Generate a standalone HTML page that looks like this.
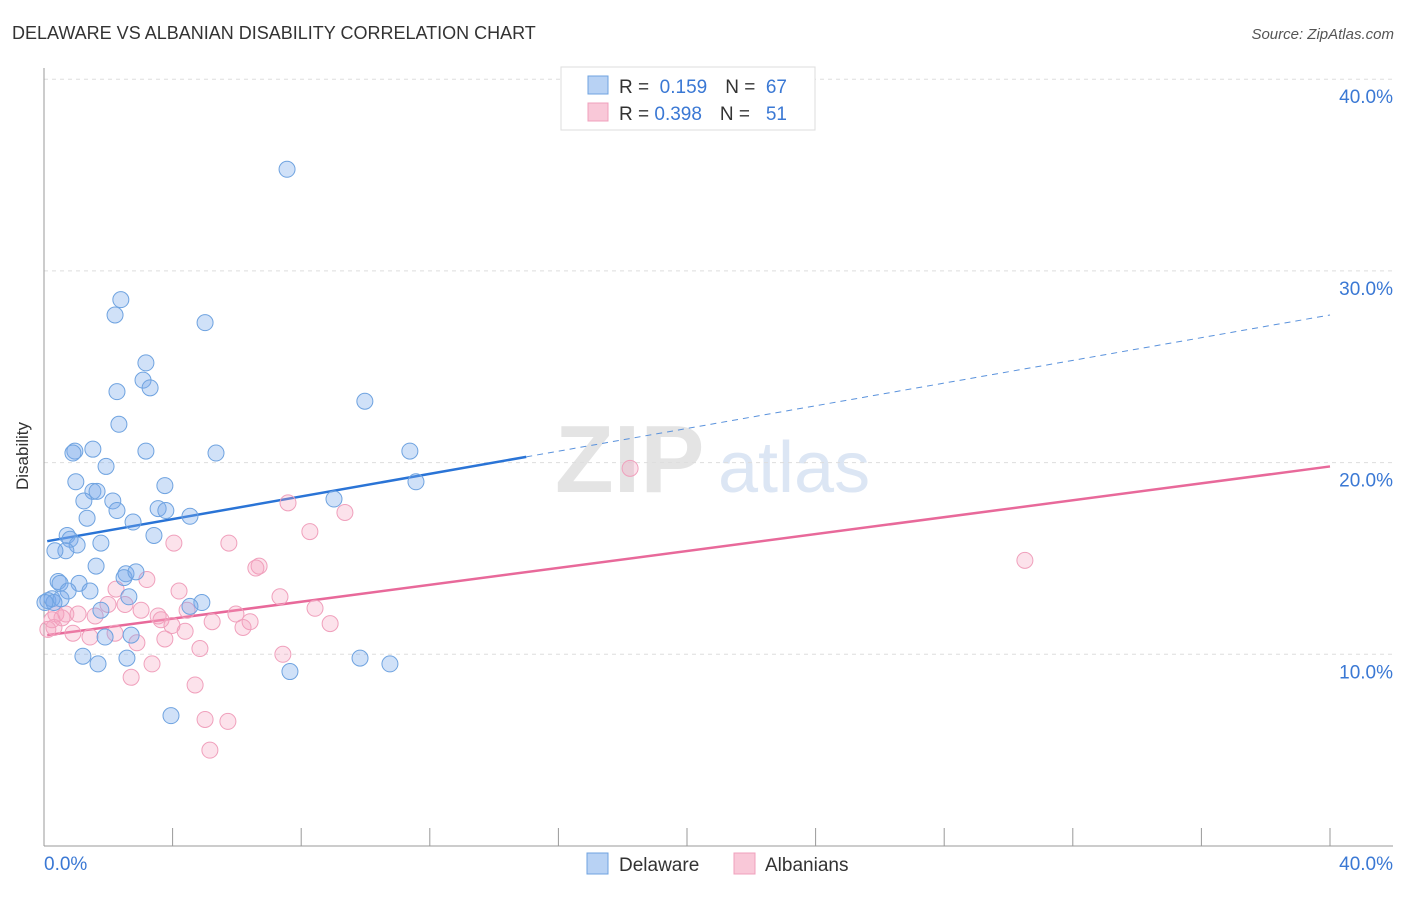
<!DOCTYPE html>
<html><head><meta charset="utf-8"><style>
body{margin:0;background:#fff;font-family:"Liberation Sans",sans-serif;}
svg text{font-family:"Liberation Sans",sans-serif;}
</style></head><body>
<svg id="chart" width="1406" height="892" xmlns="http://www.w3.org/2000/svg">
<text x="12" y="39" font-size="18" fill="#333">DELAWARE VS ALBANIAN DISABILITY CORRELATION CHART</text>
<text x="1394" y="39" font-size="15" fill="#555" text-anchor="end" font-style="italic">Source: ZipAtlas.com</text>
<text x="28" y="456" font-size="17" fill="#333" text-anchor="middle" transform="rotate(-90 28 456)">Disability</text>
<g><text x="555" y="492" font-size="96" fill="#e4e4e4" font-family="Liberation Serif" font-weight="bold">ZIP</text><text x="718" y="492" font-size="72" fill="#dce6f4">atlas</text></g>
<g id="grid"></g><g id="axes"></g><g id="trend"></g><g id="pts"></g>
<g>
<rect x="561" y="67" width="254" height="63" fill="#fff" stroke="#ddd"/>
<rect x="588" y="76" width="20" height="18" fill="#b8d2f4" stroke="#6fa3e0"/>
<rect x="588" y="103" width="20" height="18" fill="#f9c8d8" stroke="#f0a0bc"/>
<text x="619" y="93" font-size="19" fill="#333">R = <tspan fill="#3a78d4">&#160;0.159</tspan><tspan dx="18" fill="#333">N = </tspan><tspan fill="#3a78d4">&#160;67</tspan></text>
<text x="619" y="120" font-size="19" fill="#333">R = <tspan fill="#3a78d4">0.398</tspan><tspan dx="18" fill="#333">N = </tspan><tspan fill="#3a78d4">&#160;&#160;51</tspan></text>
</g>
<g>
<rect x="587" y="853" width="21" height="21" fill="#b8d2f4" stroke="#6fa3e0"/>
<text x="619" y="871" font-size="19" fill="#333">Delaware</text>
<rect x="734" y="853" width="21" height="21" fill="#f9c8d8" stroke="#f0a0bc"/>
<text x="765" y="871" font-size="19" fill="#333">Albanians</text>
</g>
</svg>
<script>
const yTicks=[10,20,30,40];
const yTickLabels=["10.0%","20.0%","30.0%","40.0%"];
const xTickLabels=["0.0%","40.0%"];
const blueX=[7.56,2.39,2.21,5.01,3.17,3.08,3.30,2.27,9.98,2.33,0.96,1.52,0.90,3.17,5.35,11.38,1.93,0.99,11.57,3.76,1.52,1.65,1.24,2.14,2.27,3.55,3.79,9.02,4.54,1.34,2.77,0.72,3.42,0.81,1.03,1.77,0.68,0.34,1.62,2.55,2.49,2.86,0.44,0.50,1.09,0.75,1.43,2.64,0.12,0.25,0.53,0.31,0.03,1.77,4.91,4.54,2.71,1.90,1.21,2.58,1.68,9.83,10.76,7.65,3.95];
const blueY=[35.3,28.5,27.7,27.3,25.2,24.3,23.9,23.7,23.2,22.0,20.6,20.7,20.5,20.6,20.5,20.6,19.8,19.0,19.0,18.8,18.5,18.5,18.0,18.0,17.5,17.6,17.5,18.1,17.2,17.1,16.9,16.2,16.2,16.0,15.7,15.8,15.4,15.4,14.6,14.2,14.0,14.3,13.8,13.7,13.7,13.3,13.3,13.0,12.8,12.9,12.9,12.7,12.7,12.3,12.7,12.5,11.0,10.9,9.9,9.8,9.5,9.8,9.5,9.1,6.8];
const pinkX=[18.23,30.51,7.59,9.36,8.27,4.04,5.75,6.69,6.59,3.20,4.20,2.24,7.34,2.52,1.99,8.43,5.97,0.68,4.45,0.37,1.06,1.59,3.02,3.55,3.64,5.23,6.41,8.90,6.19,2.21,4.39,3.98,0.31,0.12,0.90,1.43,2.89,3.76,4.85,7.43,3.36,2.71,4.70,5.01,5.72,5.16,0.56,0.25];
const pinkY=[19.7,14.9,17.9,17.4,16.4,15.8,15.8,14.6,14.5,13.9,13.3,13.4,13.0,12.6,12.6,12.4,12.1,12.1,12.3,12.1,12.1,12.0,12.3,12.0,11.8,11.7,11.7,11.6,11.4,11.1,11.2,11.5,11.4,11.3,11.1,10.9,10.6,10.8,10.3,10.0,9.5,8.8,8.4,6.6,6.5,5.0,11.9,11.8];
const trendBlueX=[0.1,15.0],trendBlueY=[15.9,20.3];
const trendBlueDashX=[15.0,40.0],trendBlueDashY=[20.3,27.7];
const trendPinkX=[0.1,40.0],trendPinkY=[11.0,19.8];
const NS="http://www.w3.org/2000/svg";
const X=v=>44+v*32.15, Y=v=>846-v*19.17;
function mk(t,a,p){const e=document.createElementNS(NS,t);for(const k in a)e.setAttribute(k,a[k]);p.appendChild(e);return e;}
const grid=document.getElementById('grid'),axes=document.getElementById('axes');
yTicks.forEach((t,i)=>{
 const l=mk('line',{x1:44,x2:1393,y1:Y(t),y2:Y(t),stroke:'#ddd','stroke-dasharray':'4,4'},grid);
 
 
 const tx=mk('text',{x:1393,y:Y(t)+24,'font-size':19,fill:'#3a78d4','text-anchor':'end'},axes);tx.textContent=yTickLabels[i];
 
 
});
mk('line',{x1:44,x2:44,y1:68,y2:846,stroke:'#999'},axes);
mk('line',{x1:44,x2:1393,y1:846,y2:846,stroke:'#999'},axes);
for(let i=0;i<=10;i++){const l=mk('line',{x1:X(i*4),x2:X(i*4),y1:828,y2:846,stroke:'#999'},axes);
 
 }
const xl=mk('text',{x:44,y:870,'font-size':19,fill:'#3a78d4'},axes);xl.textContent=xTickLabels[0];


const xr=mk('text',{x:1393,y:870,'font-size':19,fill:'#3a78d4','text-anchor':'end'},axes);xr.textContent=xTickLabels[1];


const pts=document.getElementById('pts'),tr=document.getElementById('trend');
pinkX.forEach((v,i)=>{const c=mk('circle',{cx:X(v),cy:Y(pinkY[i]),r:8,fill:'rgba(244,160,190,0.3)',stroke:'#f0a0bc','stroke-width':1},pts);
 
 });
blueX.forEach((v,i)=>{const c=mk('circle',{cx:X(v),cy:Y(blueY[i]),r:8,fill:'rgba(120,170,235,0.35)',stroke:'#6fa3e0','stroke-width':1},pts);
 
 });
const t1=mk('line',{x1:X(trendBlueX[0]),y1:Y(trendBlueY[0]),x2:X(trendBlueX[1]),y2:Y(trendBlueY[1]),stroke:'#2a74d6','stroke-width':2.5},tr);


const t2=mk('line',{x1:X(trendBlueDashX[0]),y1:Y(trendBlueDashY[0]),x2:X(trendBlueDashX[1]),y2:Y(trendBlueDashY[1]),stroke:'#5a92dc','stroke-width':1,'stroke-dasharray':'6,5'},tr);


const t3=mk('line',{x1:X(trendPinkX[0]),y1:Y(trendPinkY[0]),x2:X(trendPinkX[1]),y2:Y(trendPinkY[1]),stroke:'#e8699a','stroke-width':2.5},tr);


</script>
</body></html>
